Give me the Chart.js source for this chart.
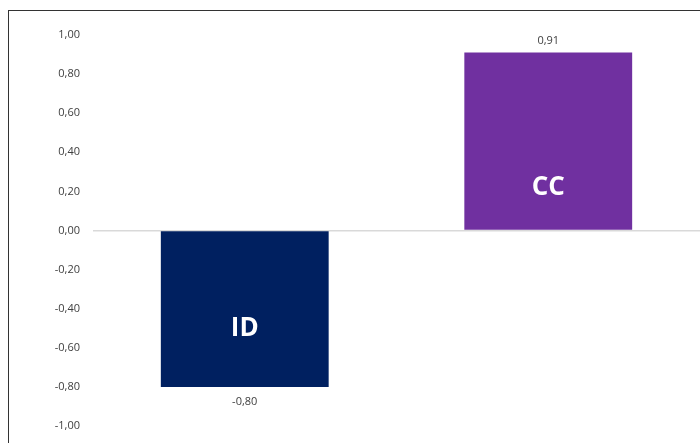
<!DOCTYPE html>
<html lang="pt-br">
<head>
<meta charset="UTF-8">
<title>ID x CC</title>
<style>
    html, body { margin: 0; padding: 0; background: #fff; overflow: hidden; }
    #moldura { position: absolute; left: 8px; top: 10px; width: 800px; height: 600px; border: 1px solid #333; box-sizing: border-box; }
    #grafico { position: absolute; left: 0; top: 0; }
</style>
</head>
<body>
<canvas id="grafico" width="700" height="443"></canvas>
<div id="moldura"></div>
<script src="https://cdn.jsdelivr.net/npm/chart.js"></script>
<script>
    // dados
    const categorias = ['ID', 'CC'];
    const valores = [-0.80, 0.91];
    const cores = ['#002060', '#7030A0'];
    // valor (eixo y) onde fica o nome dentro da barra
    const posicaoNome = [-0.50, 0.22];

    const fmt = v => v.toFixed(2).replace('.', ',');

    const rotulos = {
        id: 'rotulos',
        afterDatasetsDraw(chart) {
            const ctx = chart.ctx;
            const meta = chart.getDatasetMeta(0);
            const y = chart.scales.y;
            ctx.save();
            ctx.textAlign = 'center';
            ctx.textBaseline = 'middle';
            meta.data.forEach((bar, i) => {
                const v = valores[i];
                ctx.font = '11px "Open Sans"';
                ctx.fillStyle = '#404040';
                const yy = v >= 0 ? bar.y - 12 : bar.y + 15;
                ctx.fillText(fmt(v), bar.x, yy);

                ctx.font = 'bold 26px "Open Sans"';
                ctx.fillStyle = '#fff';
                ctx.fillText(categorias[i], bar.x, y.getPixelForValue(posicaoNome[i]));
            });
            ctx.restore();
        }
    };

    new Chart(document.getElementById('grafico'), {
        type: 'bar',
        data: {
            labels: categorias,
            datasets: [{
                data: valores,
                backgroundColor: cores,
                borderWidth: 0,
                categoryPercentage: 1,
                barPercentage: 0.553
            }]
        },
        options: {
            responsive: false,
            animation: false,
            layout: { padding: { top: 35, bottom: 17, left: 0, right: 0 } },
            plugins: { legend: { display: false }, tooltip: { enabled: false } },
            scales: {
                x: { display: false },
                y: {
                    min: -1,
                    max: 1,
                    z: 1,
                    border: { display: false },
                    grid: {
                        drawTicks: false,
                        lineWidth: 1.5,
                        color: c => c.tick && Math.abs(c.tick.value) < 1e-9 ? '#d9d9d9' : 'rgba(0,0,0,0)'
                    },
                    ticks: {
                        stepSize: 0.2,
                        padding: 13,
                        color: '#404040',
                        font: { family: 'Open Sans', size: 11 },
                        callback: v => fmt(v)
                    },
                    afterFit: s => { s.width = 93; s.paddingTop = 0; s.paddingBottom = 0; }
                }
            }
        },
        plugins: [rotulos]
    });
</script>
</body>
</html>
